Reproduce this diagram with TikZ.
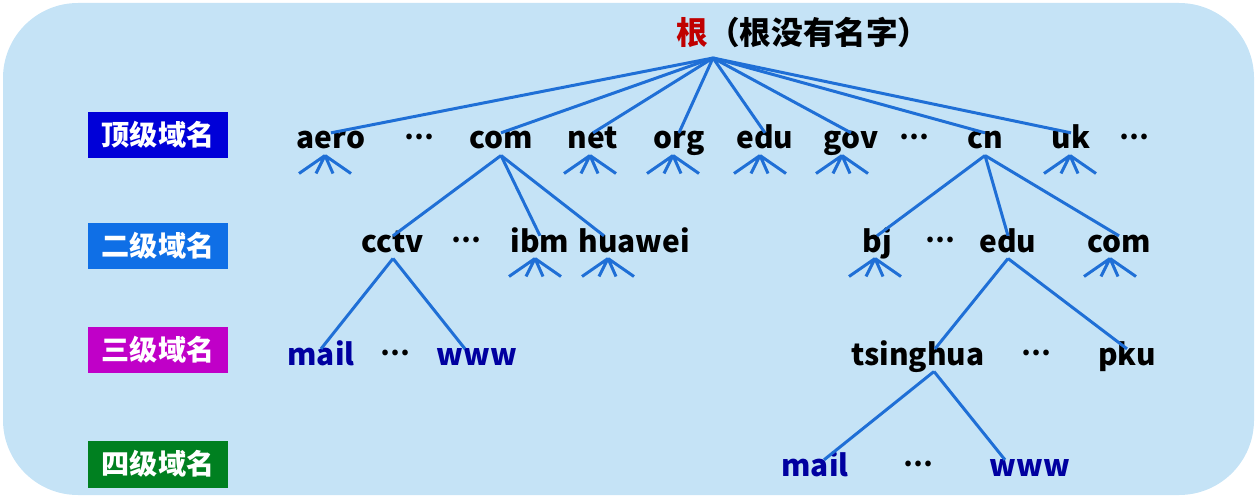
\documentclass[tikz,border=0pt]{standalone}
\usepackage{fontspec}
\setmainfont{Noto Sans CJK SC}
\usepackage{xcolor}
\usepackage{tikz}
\usetikzlibrary{calc}
\definecolor{bgblue}{HTML}{C5E3F6}
\definecolor{linkblue}{HTML}{1F6FD6}
\definecolor{hostblue}{HTML}{0000A0}
\definecolor{rootred}{HTML}{C00000}
\definecolor{lvlone}{HTML}{0000D8}
\definecolor{lvltwo}{HTML}{0F6FE6}
\definecolor{lvlthree}{HTML}{C000C8}
\definecolor{lvlfour}{HTML}{008020}
\tikzstyle{label} = [font=\bfseries\fontsize{17}{20}\selectfont,
	inner sep=1pt,
	text height=0.8em,
	text depth=0.25em,
	anchor=base]
\tikzstyle{host} = [label, text=hostblue]
\tikzstyle{gap} = [label, font=\bfseries\fontsize{15}{18}\selectfont]
\tikzstyle{level} = [minimum width=2.8cm,
	minimum height=0.94cm,
	text=white,
	font=\bfseries\fontsize{16}{19}\selectfont]
\tikzstyle{link} = [draw=linkblue, line width=1.7pt]
\newcommand{\drawfan}[2]{\path ($(#1.south)+(#2,0)$) coordinate (#1-fan);
	\draw[link] (#1-fan) -- ++(-26,18) (#1-fan) -- ++(-9,18)
	(#1-fan) -- ++(8,18) (#1-fan) -- ++(26,18)}
\newcommand{\gapdots}{\raisebox{0.35em}{…}}

\begin{document}
\begin{tikzpicture}[x=0.02cm, y=-0.02cm]
			\useasboundingbox (0,0) rectangle (1257,500);
			\fill[bgblue, rounded corners=1.5cm] (3,3) rectangle (1254,495);
			
			\node (title) [font=\bfseries\fontsize{18}{21}\selectfont] at (803,32) {{\color{rootred}根}（根没有名字）};
			\coordinate (hub) at (713,58);
			
			\node (lv1) [level, fill=lvlone] at (158,135) {顶级域名};
			\node (lv2) [level, fill=lvltwo] at (158,246) {二级域名};
			\node (lv3) [level, fill=lvlthree] at (158,350) {三级域名};
			\node (lv4) [level, fill=lvlfour] at (158,464) {四级域名};
			
			\node (aero) [label] at (331,149) {aero};
			\node (dotsa) [gap] at (419,149) {\gapdots};
			\node (com) [label] at (501,149) {com};
			\node (net) [label] at (593,149) {net};
			\node (org) [label] at (679,149) {org};
			\node (edu) [label] at (765,149) {edu};
			\node (gov) [label] at (851,149) {gov};
			\node (dotsb) [gap] at (914,149) {\gapdots};
			\node (cn) [label] at (985,149) {cn};
			\node (uk) [label] at (1071,149) {uk};
			\node (dotsc) [gap] at (1134,149) {\gapdots};
			\foreach \n in {aero,com,net,org,edu,gov,cn,uk}
				\draw [link] (hub) -- (\n.north);
			
			\node (cctv) [label] at (393,252) {cctv};
			\node (dotsd) [gap] at (466,252) {\gapdots};
			\node (ibm) [label] at (540,252) {ibm};
			\node (huawei) [label] at (634,252) {huawei};
			\node (bj) [label] at (877,252) {bj};
			\node (dotse) [gap] at (940,252) {\gapdots};
			\node (cnedu) [label] at (1008,252) {edu};
			\node (cncom) [label] at (1119,252) {com};
			\draw [link] (com.south) -- (cctv.north);
			\draw [link] (com.south) -- (ibm.north);
			\draw [link] (com.south) -- ($(huawei.north)+(-30,0)$);
			\draw [link] (cn.south) -- (bj.north);
			\draw [link] (cn.south) -- (cnedu.north);
			\draw [link] (cn.south) -- (cncom.north);
			
			\node (mail) [host] at (321,365) {mail};
			\node (dotsf) [gap] at (395,365) {\gapdots};
			\node (www) [host] at (477,365) {www};
			\node (tsinghua) [label] at (918,365) {tsinghua};
			\node (dotsg) [gap] at (1036,365) {\gapdots};
			\node (pku) [label] at (1127,365) {pku};
			\draw [link] (cctv.south) -- (mail.north);
			\draw [link] (cctv.south) -- ($(www.north)+(-12,0)$);
			\draw [link] (cnedu.south) -- ($(tsinghua.north)+(17,0)$);
			\draw [link] (cnedu.south) -- (pku.north);
			
			\node (thmail) [host] at (815,476) {mail};
			\node (dotsh) [gap] at (918,476) {\gapdots};
			\node (thwww) [host] at (1030,476) {www};
			\draw [link] ($(tsinghua.south)+(16,0)$) -- ($(thmail.north)+(9,0)$);
			\draw [link] ($(tsinghua.south)+(16,0)$) -- ($(thwww.north)+(-25,0)$);
			
			\drawfan{aero}{-6};
			\drawfan{net}{-3};
			\drawfan{org}{-6};
			\drawfan{edu}{-5};
			\drawfan{gov}{-9};
			\drawfan{uk}{-1};
			\drawfan{ibm}{-5};
			\drawfan{huawei}{-26};
			\drawfan{bj}{-2};
			\drawfan{cncom}{-9};
			
		\end{tikzpicture}
\end{document}
